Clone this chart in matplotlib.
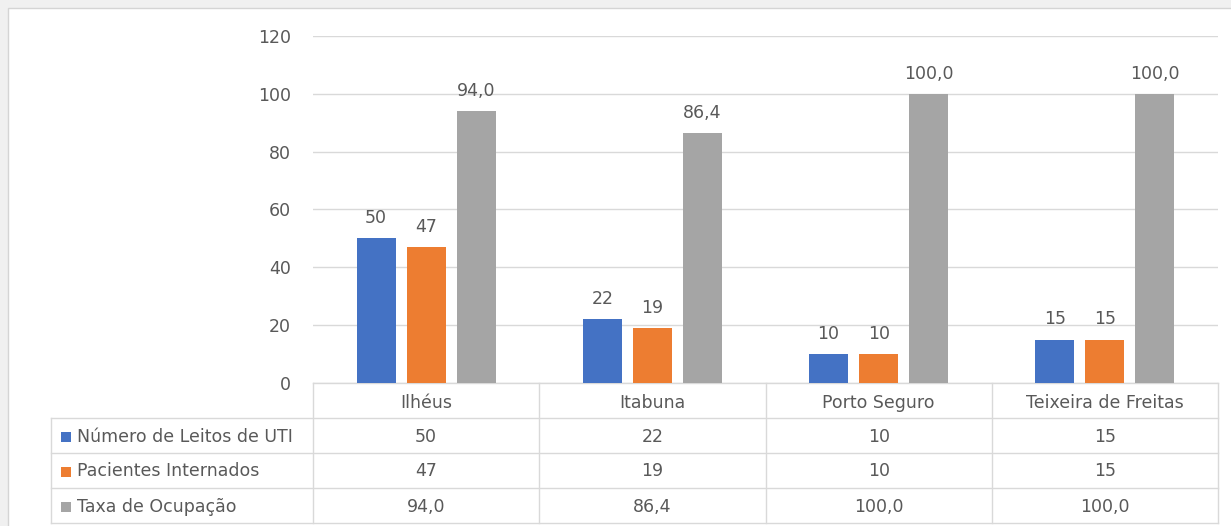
import matplotlib as mpl
mpl.use('Agg')
import matplotlib.pyplot as plt
from matplotlib.patches import Rectangle

cidades = ['Ilhéus', 'Itabuna', 'Porto Seguro', 'Teixeira de Freitas']
series = ['Número de Leitos de UTI', 'Pacientes Internados', 'Taxa de Ocupação']
leitos = [50, 22, 10, 15]
pacientes = [47, 19, 10, 15]
taxa = [94.0, 86.4, 100.0, 100.0]
cores = ['#4472C4', '#ED7D31', '#A5A5A5']
yticks = [0, 20, 40, 60, 80, 100, 120]

plt.rcParams['font.family'] = ['DejaVu Sans']
cinza = '#595959'
fs = 12.5
W, H = 1231, 526

def fmt(v, dec):
    if dec:
        return ('%.1f' % v).replace('.', ',')
    return '%d' % v

fig = plt.figure(figsize=(W / 100, H / 100), dpi=100)
fig.patch.set_facecolor('#f0f0f0')

# fundo em coordenadas de pixel
bg = fig.add_axes([0, 0, 1, 1], zorder=0)
bg.set_xlim(0, W)
bg.set_ylim(H, 0)
bg.axis('off')
bg.add_patch(Rectangle((8, 8), W, H, facecolor='white', edgecolor='#d4d4d4', lw=1))

x0, x1, ytop, ybot = 313, 1218, 36, 383
ax = fig.add_axes([x0 / W, (H - ybot) / H, (x1 - x0) / W, (ybot - ytop) / H], zorder=1)
ax.set_facecolor('none')

dados = [leitos, pacientes, taxa]
larg = 0.173
desloc = 0.221
for i, (vals, cor) in enumerate(zip(dados, cores)):
    xs = [k + (i - 1) * desloc for k in range(len(cidades))]
    bars = ax.bar(xs, vals, width=larg, color=cor, zorder=3)
    for b, v in zip(bars, vals):
        ax.annotate(fmt(v, i == 2), (b.get_x() + b.get_width() / 2, v),
                    xytext=(0, 11), textcoords='offset points', ha='center', va='baseline',
                    fontsize=fs, color=cinza)

ax.set_xlim(-0.5, len(cidades) - 0.5)
ax.set_ylim(0, 120)
ax.set_yticks(yticks)
ax.set_yticklabels([str(t) for t in yticks], fontsize=fs, color=cinza)
ax.tick_params(axis='y', length=0, pad=16)
ax.set_xticks([])
ax.grid(axis='y', color='#d9d9d9', lw=1, zorder=0)
for s in ax.spines.values():
    s.set_visible(False)

# tabela de dados
ncol = len(cidades)
cw = (x1 - x0) / ncol
cols = [x0 + k * cw for k in range(ncol + 1)]
rows = [383, 418, 453, 488, 523]
lab_x = 51
lc = '#d9d9d9'
bg.plot([x0, x1], [rows[0], rows[0]], color=lc, lw=1, zorder=2)
for r in rows[1:]:
    bg.plot([lab_x, x1], [r, r], color=lc, lw=1, zorder=2)
for c in cols:
    bg.plot([c, c], [rows[0], rows[-1]], color=lc, lw=1, zorder=2)
bg.plot([lab_x, lab_x], [rows[1], rows[-1]], color=lc, lw=1, zorder=2)

for k, nome in enumerate(cidades):
    bg.text((cols[k] + cols[k + 1]) / 2, (rows[0] + rows[1]) / 2 + 2, nome,
            ha='center', va='center', fontsize=fs, color=cinza)
for j, (s, vals, cor) in enumerate(zip(series, dados, cores)):
    yc = (rows[j + 1] + rows[j + 2]) / 2 + 1
    bg.add_patch(Rectangle((61, yc - 5), 10, 10, facecolor=cor, edgecolor='none'))
    bg.text(77, yc, s, ha='left', va='center', fontsize=fs, color=cinza)
    for k, v in enumerate(vals):
        bg.text((cols[k] + cols[k + 1]) / 2, yc, fmt(v, j == 2),
                ha='center', va='center', fontsize=fs, color=cinza)

fig.savefig('out.png', dpi=100, facecolor=fig.get_facecolor())
